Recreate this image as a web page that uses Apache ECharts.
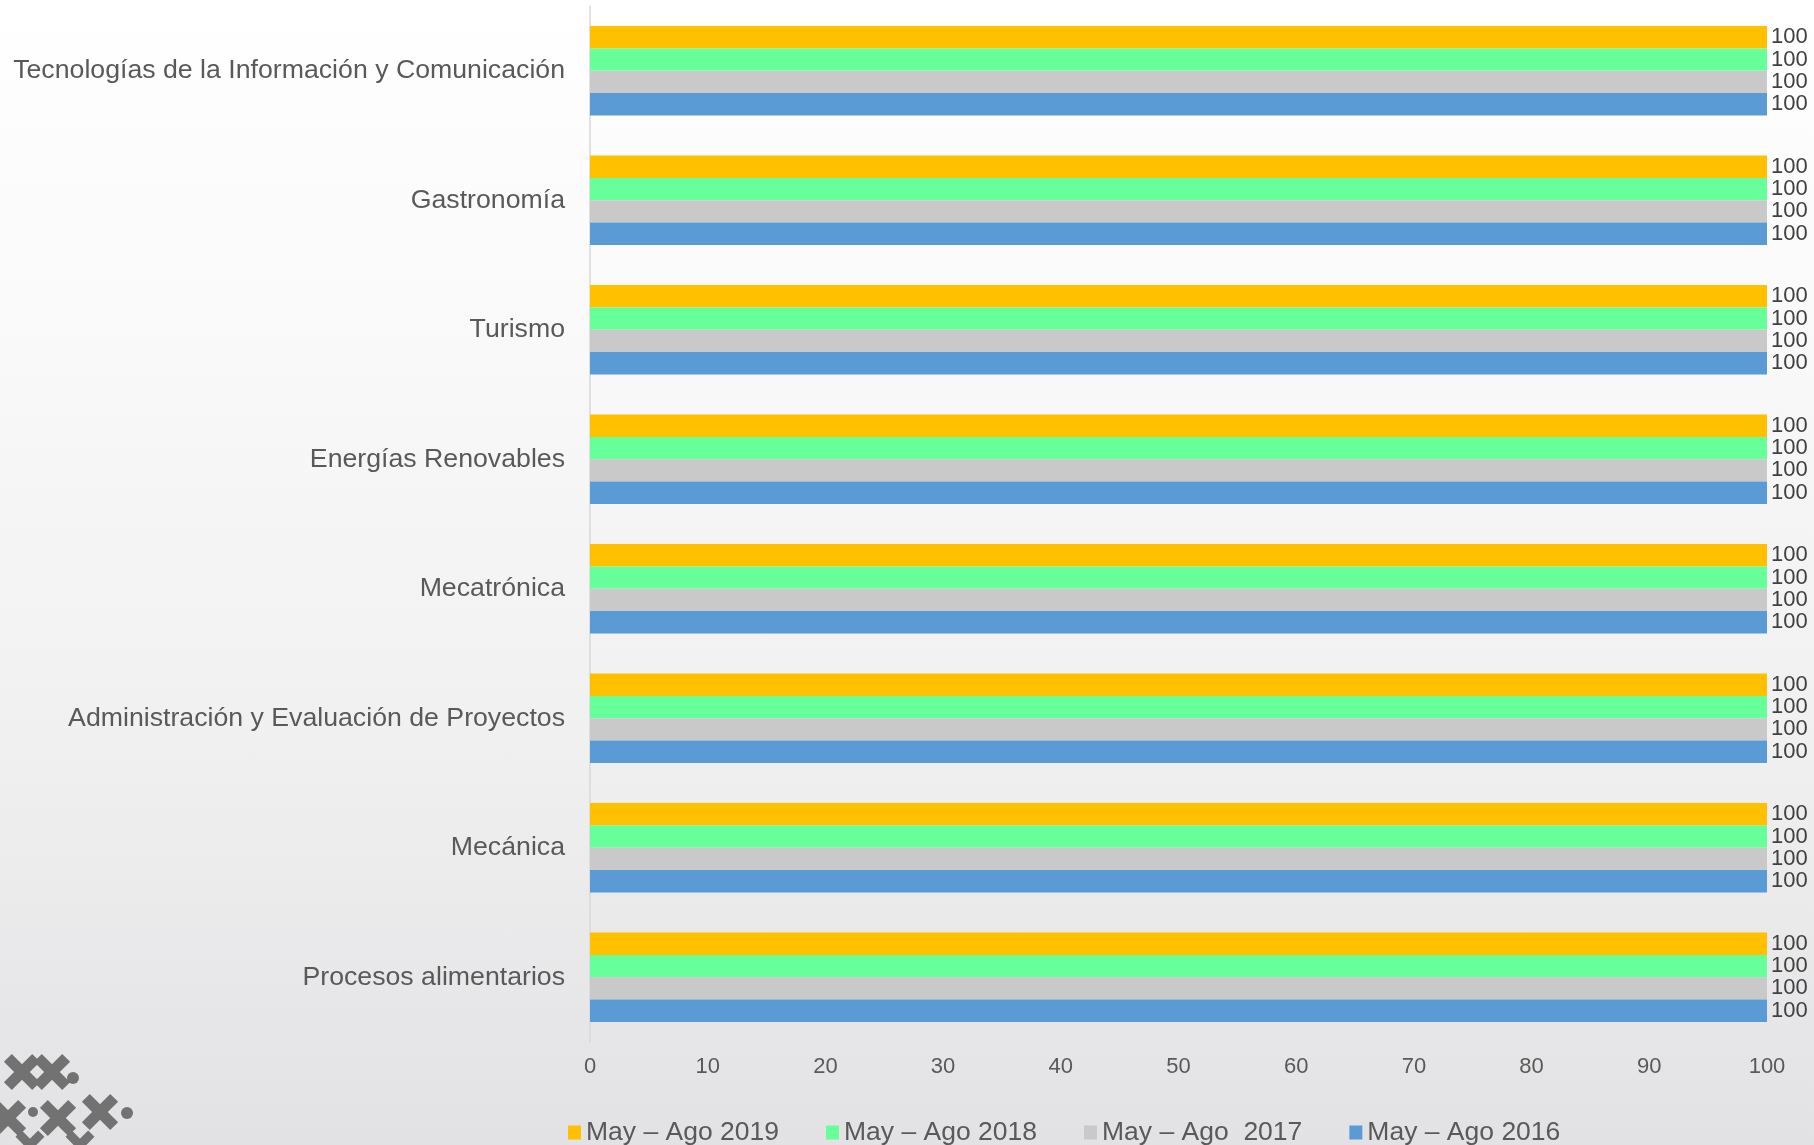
<!DOCTYPE html>
<html>
<head>
<meta charset="utf-8">
<script src="https://cdn.jsdelivr.net/npm/echarts@6/dist/echarts.min.js"></script>
<style>
html,body{margin:0;padding:0;width:1814px;height:1145px;overflow:hidden;
background:linear-gradient(180deg,#ffffff 0%,#f9f9f9 30%,#f0f0f1 65%,#e2e2e4 100%);}
#chart{width:1814px;height:1145px;}
</style>
</head>
<body>
<div id="chart"></div>
<script>
const categories = [
  "Tecnologías de la Información y Comunicación",
  "Gastronomía",
  "Turismo",
  "Energías Renovables",
  "Mecatrónica",
  "Administración y Evaluación de Proyectos",
  "Mecánica",
  "Procesos alimentarios"
];
const seriesNames = ["May – Ago 2019", "May – Ago 2018", "May – Ago  2017", "May – Ago 2016"];
const values2019 = [100, 100, 100, 100, 100, 100, 100, 100];
const values2018 = [100, 100, 100, 100, 100, 100, 100, 100];
const values2017 = [100, 100, 100, 100, 100, 100, 100, 100];
const values2016 = [100, 100, 100, 100, 100, 100, 100, 100];
const xTicks = [0, 10, 20, 30, 40, 50, 60, 70, 80, 90, 100];

const colors = ["#FFC000", "#66FF99", "#C9C9C9", "#5B9BD5"];
const seriesData = [values2019, values2018, values2017, values2016];

const chart = echarts.init(document.getElementById('chart'), null, {renderer: 'canvas'});
const FONT = '"Liberation Sans", Arial, sans-serif';

// decorative logo approximation (bottom-left corner)
const logoColor = '#727272';
function xShape(cx, cy, s) {
  return [
    {type: 'rect', shape: {x: -s, y: -s * 0.28, width: 2 * s, height: s * 0.56}, x: cx, y: cy, rotation: Math.PI / 4, style: {fill: logoColor}},
    {type: 'rect', shape: {x: -s, y: -s * 0.28, width: 2 * s, height: s * 0.56}, x: cx, y: cy, rotation: -Math.PI / 4, style: {fill: logoColor}}
  ];
}
const logo = [].concat(
  xShape(22, 1072, 20), xShape(52, 1072, 20),
  xShape(8, 1118, 20), xShape(58, 1118, 20), xShape(100, 1112, 20),
  xShape(30, 1145, 16), xShape(80, 1145, 16),
  [
    {type: 'circle', shape: {cx: 73, cy: 1078, r: 6}, style: {fill: logoColor}},
    {type: 'circle', shape: {cx: 33, cy: 1112, r: 5}, style: {fill: logoColor}},
    {type: 'circle', shape: {cx: 127, cy: 1113, r: 6}, style: {fill: logoColor}}
  ]
);

chart.setOption({
  backgroundColor: 'transparent',
  animation: false,
  textStyle: {fontFamily: FONT},
  graphic: {elements: [{type: 'group', silent: true, z: -1, children: logo}]},
  grid: {left: 590, right: 47, top: 6, bottom: 103, containLabel: false},
  xAxis: {
    type: 'value',
    min: xTicks[0], max: xTicks[xTicks.length - 1], interval: xTicks[1] - xTicks[0],
    axisLine: {show: false}, axisTick: {show: false}, splitLine: {show: false},
    axisLabel: {color: '#595959', fontSize: 22, fontFamily: FONT, margin: 14}
  },
  yAxis: {
    type: 'category', data: categories, inverse: true,
    axisLine: {show: true, lineStyle: {color: '#D9D9D9', width: 1.5}},
    axisTick: {show: false},
    axisLabel: {color: '#595959', fontSize: 26.7, fontFamily: FONT, margin: 25}
  },
  legend: {
    left: 563, top: 1114,
    itemWidth: 13, itemHeight: 14, itemGap: 47,
    icon: 'rect',
    textStyle: {color: '#595959', fontSize: 26.5, fontFamily: FONT},
    data: seriesNames
  },
  series: seriesNames.map((name, i) => ({
    name: name,
    type: 'bar',
    data: seriesData[i],
    barGap: '0%',
    barCategoryGap: '31%',
    itemStyle: {color: colors[i]},
    label: {show: true, position: 'right', distance: 4, color: '#404040', fontSize: 22, fontFamily: FONT}
  }))
});
</script>
</body>
</html>
